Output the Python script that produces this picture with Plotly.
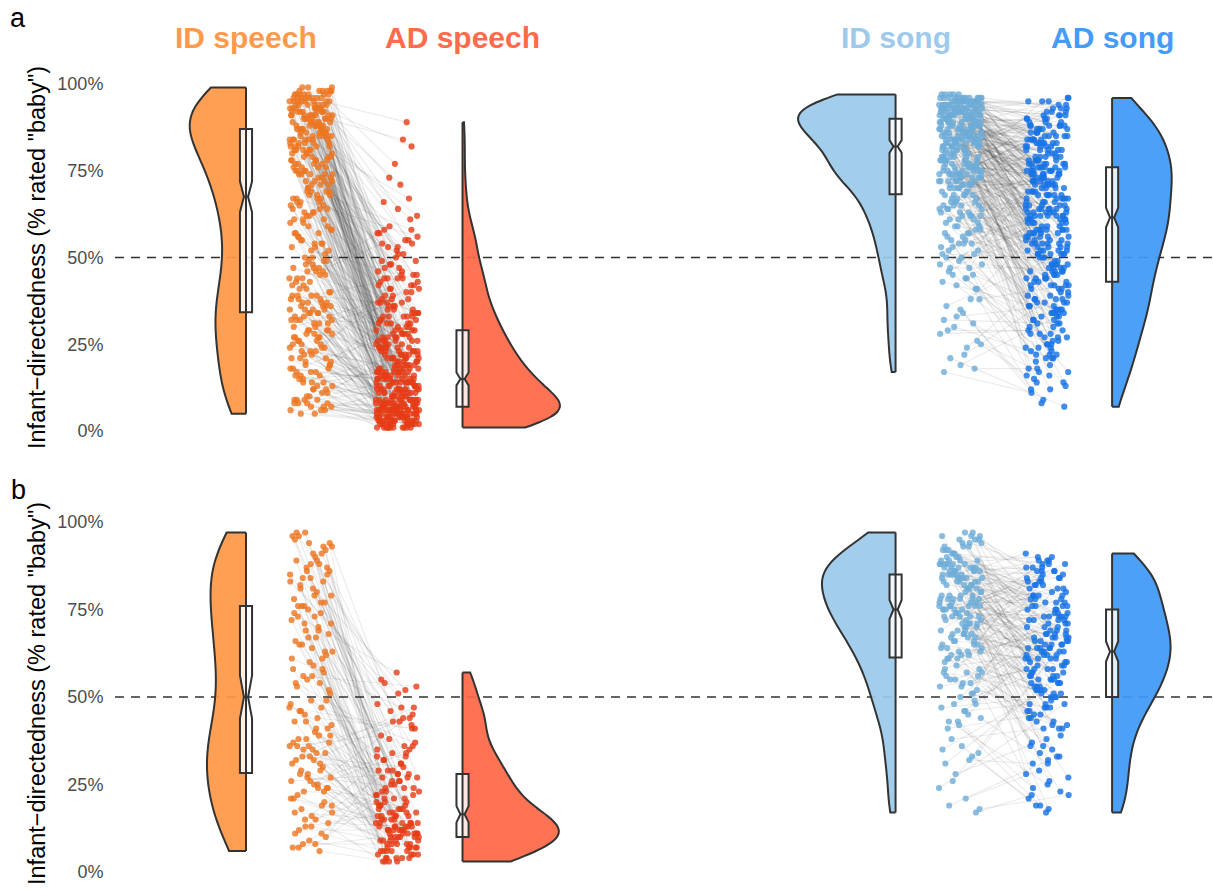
import numpy as np
import plotly.graph_objects as go

# Percentage of listeners who answered "baby" for each recording.
# ID and AD lists of the same panel/domain are index-aligned (same singer/speaker).

# ---- panel a ----
A_ID_SPEECH = [
    97, 92, 95, 99, 91, 94, 90, 96, 93, 98, 92, 95, 91, 97, 94, 90, 93, 96, 92, 98,
    91, 95, 93, 97, 90, 94, 96, 92, 99, 91, 93, 95, 97, 90, 94, 92, 96, 91, 93, 98, 95,
    88, 84, 86, 81, 89, 83, 87, 85, 80, 82, 88, 86, 84, 89, 81, 87, 83, 85, 88, 82,
    86, 84, 80, 89, 87, 83, 85, 81, 88, 86, 84, 82, 87,
    78, 74, 76, 71, 79, 73, 77, 75, 72, 70, 78, 76, 74, 79, 71, 77, 73, 75, 72, 78, 74, 76,
    68, 64, 66, 61, 69, 63, 67, 65, 62, 60, 68, 66, 64, 69, 61, 67, 63,
    58, 54, 56, 51, 59, 53, 57, 55, 52, 50, 57, 54,
    48, 44, 46, 41, 49, 43, 47, 45, 42, 40, 47, 44, 49, 46,
    38, 34, 36, 31, 39, 33, 37, 35, 32, 30, 38, 36, 34, 39, 31, 37, 33, 35, 32, 36,
    28, 24, 26, 21, 29, 23, 27, 25, 22, 20, 28, 26, 24, 29, 21, 27, 23,
    18, 14, 16, 11, 19, 13, 17, 15, 12, 10, 18, 16, 14, 19, 12,
    9, 7, 8, 6, 9, 5, 8, 7, 9,
    96, 91, 98, 93, 95, 90, 97, 92, 94, 99, 91, 96, 93, 98, 90, 95, 92, 97, 94, 91,
    96, 93, 90, 98, 95, 92, 97, 94, 91, 93, 96,
    85, 89, 82, 87, 84, 80, 88, 83, 86, 81, 89, 85, 87, 82, 84, 88, 86, 80, 83, 89,
    85, 87, 81, 84, 88,
    75, 79, 72, 77, 74, 70, 78, 73, 76, 71, 79, 75, 77, 72, 74, 78,
    65, 69, 62, 67, 64, 60, 68, 63, 66, 61, 69, 65, 67,
    55, 59, 52, 57, 54, 50, 58, 53, 56,
    45, 49, 42, 47, 44, 40, 48, 43, 46, 41,
    35, 39, 32, 37, 34, 30, 38, 33, 36, 31, 39, 35, 37, 32, 34,
    25, 29, 22, 27, 24, 20, 28, 23, 26, 21, 29, 25, 27,
    15, 19, 12, 17, 14, 10, 18, 13, 16, 11, 17,
    8, 6, 9, 7, 5, 8, 6,
]
A_AD_SPEECH = [
    89, 23, 47, 8, 38, 18, 58, 28, 13, 77, 35, 44, 21, 6, 64, 32, 16, 55, 26, 9,
    41, 36, 82, 24, 19, 11, 52, 29, 73, 33, 49, 7, 22, 14, 61, 39, 17, 57, 27, 45, 4,
    12, 43, 5, 20, 31, 67, 15, 8, 25, 3, 54, 37, 10, 24, 19, 7, 48, 28, 2, 14,
    34, 21, 9, 17, 51, 26, 6, 42, 13, 30, 16, 23, 4,
    9, 27, 11, 46, 6, 18, 33, 3, 22, 13, 53, 5, 15, 38, 8, 29, 12, 1, 40, 16, 20, 31,
    14, 7, 36, 2, 24, 17, 56, 10, 5, 26, 44, 12, 19, 8, 21, 4, 32,
    16, 6, 41, 11, 3, 22, 9, 35, 14, 1, 28, 18,
    7, 13, 59, 2, 17, 5, 34, 10, 9, 25, 4, 15, 6, 23,
    8, 21, 3, 12, 45, 6, 19, 1, 37, 14, 5, 29, 4, 16, 9, 24, 11, 2, 31, 7,
    6, 13, 2, 42, 8, 18, 4, 10, 5, 33, 1, 12, 9, 20, 3, 15, 7,
    5, 1, 11, 3, 27, 7, 2, 17, 9, 4, 14, 2, 22, 6, 3,
    3, 8, 1, 6, 12, 2, 5, 4, 7,
    12, 43, 7, 31, 22, 84, 17, 26, 9, 53, 14, 37, 19, 5, 48, 24, 66, 10, 29, 8,
    34, 15, 3, 57, 20, 13, 41, 6, 27, 71, 18, 39, 11, 23, 7, 46, 50, 16, 25, 4,
    32, 12, 62, 21, 9, 44, 28, 17, 36, 14, 6, 55, 24, 30, 49, 2,
    6, 33, 11, 2, 21, 58, 16, 8, 42, 27, 13, 4, 19, 38, 5, 23, 14, 9, 47, 1,
    15, 29, 7, 35, 10, 18, 51, 3, 6, 22, 12, 45, 8, 17, 26, 31, 5, 4,
    7, 34, 13, 3, 54, 18, 9, 28, 1, 24, 11, 37, 5, 15, 2, 40, 8, 20, 12, 6,
    30, 16, 25, 4, 7,
    2, 6, 12, 3, 44, 8, 1, 17, 5, 4, 21, 10, 2, 9, 33, 3, 7, 19, 1, 14,
    6, 4, 26, 8, 2, 11, 15, 5, 3, 23, 1,
]
A_ID_SONG = [
    93, 91, 95, 96, 92, 94, 90, 97, 93, 91, 95, 92, 96, 94, 90, 93, 91, 95, 97, 92,
    94, 96, 90, 93, 91, 95, 92, 94, 96, 93, 90, 91, 95, 92, 97, 94, 96, 93, 91, 90,
    95, 92, 94, 96, 93, 91, 95, 90, 92, 94, 96, 93, 91, 95, 92, 94,
    88, 84, 86, 81, 89, 83, 87, 85, 80, 82, 89, 86, 84, 88, 81, 87, 83, 85, 89, 82,
    86, 84, 80, 88, 87, 83, 85, 81, 89, 86, 84, 82, 87, 85, 88, 83, 86, 80, 89, 84,
    87, 81, 85, 88, 82, 86, 83, 89, 84, 87, 85, 88,
    78, 74, 76, 71, 79, 73, 77, 75, 72, 70, 78, 76, 74, 79, 71, 77, 73, 75, 72, 78,
    74, 76, 70, 79, 77, 73, 75, 71, 78, 76, 74, 72, 77, 79, 75, 73, 78, 71, 76, 74,
    68, 64, 66, 61, 69, 63, 67, 65, 62, 60, 68, 66, 64, 69, 61, 67, 63, 65, 62, 68,
    58, 54, 56, 51, 59, 53, 57, 55, 52, 50, 57, 54, 59,
    48, 44, 46, 41, 49, 43, 47, 45,
    38, 34, 36, 31, 33,
    28, 24, 21, 26,
    19, 17,
    94, 91, 96, 93, 90, 95, 92, 97, 94, 91, 96, 93, 90, 95, 92, 94, 96, 91, 93, 95,
    90, 92, 97, 94, 96, 93, 91, 95, 92, 90, 94, 96, 93, 91, 95, 92, 94, 90, 96, 93, 95, 92,
    85, 82, 88, 84, 81, 87, 83, 89, 86, 80, 85, 88, 82, 86, 84, 89, 81, 87, 83, 85,
    88, 86, 82, 84, 89, 80, 87, 83, 85, 81, 86, 88, 84, 82, 87, 89, 83, 85, 86,
    75, 72, 78, 74, 71, 77, 73, 79, 76, 70, 75, 78, 72, 76, 74, 79, 71, 77, 73, 75,
    78, 76, 72, 74, 79, 70, 77, 73, 75, 76,
    65, 62, 68, 64, 61, 67, 63, 69, 66, 60, 65, 68, 62, 66, 64,
    55, 52, 58, 54, 51, 57, 53, 59, 56, 50,
    45, 42, 48, 44, 47, 41, 35, 32, 38, 30, 25, 22, 29, 18,
]
A_AD_SONG = [
    78, 88, 64, 93, 58, 74, 84, 48, 66, 76, 38, 86, 71, 61, 54, 91, 79, 81, 69, 28,
    56, 73, 89, 44, 63, 95, 77, 51, 83, 67, 75, 16, 87, 59, 65, 72, 34, 90, 85, 62,
    53, 70, 46, 80, 60, 76, 94, 57, 82, 24, 74, 41, 86, 68, 36, 92,
    65, 87, 45, 77, 55, 96, 73, 35, 62, 83, 52, 79, 14, 68, 85, 42, 71, 58, 64, 91,
    32, 75, 81, 50, 60, 78, 49, 89, 25, 67, 72, 57, 84, 63, 39, 74, 93, 54, 47, 69,
    82, 70, 51, 22, 61, 88, 37, 76, 59, 43, 80, 90,
    66, 46, 86, 76, 36, 56, 92, 62, 26, 72, 42, 82, 52, 68, 78, 32, 18, 58, 88, 64,
    48, 74, 22, 54, 95, 61, 38, 71, 84, 44, 67, 51, 79, 28, 81, 63, 57, 41, 75, 34,
    55, 73, 35, 83, 45, 65, 25, 77, 50, 31, 60, 12, 40, 87, 53, 69, 21, 39, 70, 47,
    43, 64, 23, 85, 52, 33, 75, 15, 48, 67, 27, 58, 37,
    46, 30, 62, 13, 56, 34, 72, 24,
    42, 9, 51, 20, 36,
    29, 44, 7, 17,
    33, 11,
    75, 85, 65, 91, 55, 72, 82, 45, 62, 78, 35, 88, 68, 94, 52, 74, 84, 25, 64, 71,
    81, 58, 42, 77, 90, 61, 87, 73, 54, 19, 67, 83, 79, 38, 93, 63, 89, 51, 76, 48, 86, 95,
    64, 84, 54, 74, 92, 44, 77, 67, 87, 34, 57, 71, 61, 81, 27, 76, 51, 96, 66, 47,
    73, 86, 56, 63, 37, 78, 83, 41, 68, 53, 70, 88, 60, 46, 75, 90, 58, 31, 80,
    62, 72, 42, 82, 52, 32, 75, 65, 91, 55, 22, 45, 78, 68, 85, 58, 35, 74, 64, 48,
    54, 88, 71, 26, 61, 44, 77, 51, 38, 84,
    53, 43, 73, 33, 63, 23, 56, 83, 46, 14, 66, 36, 59, 76, 28, 49, 69, 39, 17, 50,
    40, 79, 30, 60, 21,
    34, 24, 62, 12, 47, 27, 8, 31, 57, 21, 16, 37, 29, 18,
]

# ---- panel b ----
B_ID_SPEECH = [
    95, 91, 97, 93, 90, 96, 92, 94, 96,
    88, 84, 86, 81, 89, 83, 87, 85, 80, 82, 87, 84,
    78, 74, 76, 71, 79, 73, 77, 75, 72, 70, 76,
    68, 64, 66, 61, 69, 63, 67, 65, 62, 60,
    58, 54, 56, 51, 59, 53, 57, 55,
    48, 44, 46, 41, 49, 43, 47, 45, 42, 40,
    38, 34, 36, 31, 39, 33, 37, 35, 32, 30, 38, 36, 34,
    28, 24, 26, 21, 29, 23, 27, 25, 22, 20, 28, 26, 24,
    18, 14, 16, 11, 19, 13, 17, 15, 12, 10,
    9, 7, 6, 8,
    94, 91, 97, 93, 86, 83, 89, 81, 85, 88,
    74, 77, 71, 79, 73, 76, 63, 67, 61, 69, 65,
    52, 56, 54, 58, 43, 47, 41, 46, 49,
    33, 37, 31, 35, 39, 32, 36, 23, 27, 21, 25, 29, 24,
    13, 17, 11, 15, 19, 8, 7,
]
B_AD_SPEECH = [
    17, 55, 12, 27, 8, 44, 21, 14, 33,
    13, 36, 7, 52, 19, 28, 11, 46, 16, 9, 31, 23,
    12, 42, 4, 24, 18, 57, 10, 38, 6, 15, 26,
    14, 34, 8, 20, 11, 48, 16, 5, 29, 13,
    19, 10, 53, 25, 7, 32, 12, 22,
    15, 41, 6, 21, 13, 3, 37, 17, 11, 27,
    18, 9, 43, 14, 24, 30, 5, 16, 47, 12, 20, 39, 26,
    11, 6, 35, 15, 4, 22, 10, 45, 8, 19, 14, 28, 7,
    9, 13, 3, 31, 10, 17, 5, 23, 12, 29,
    4, 11, 3, 8,
    16, 43, 11, 26, 7, 54, 18, 35, 13, 22,
    12, 33, 9, 51, 17, 10, 28, 6, 47, 14, 21,
    13, 4, 36, 19, 8, 41, 11, 27, 23,
    10, 5, 29, 14, 3, 44, 16, 9, 24, 12, 34, 6, 18,
    7, 15, 4, 32, 12, 20, 25,
]
B_ID_SONG = [
    93, 96, 91, 94, 97, 92, 95, 90, 96, 93, 91, 95, 94, 92, 97, 90,
    88, 84, 86, 81, 89, 83, 87, 85, 80, 82, 88, 86, 84, 89, 81, 87, 83, 85, 88, 82,
    86, 84, 80, 89, 87, 83, 85, 81, 88, 86, 84, 82, 87, 85,
    78, 74, 76, 71, 79, 73, 77, 75, 72, 70, 78, 76, 74, 79, 71, 77, 73, 75, 72, 78,
    74, 76, 70, 79, 77, 73, 75, 71, 78, 76,
    68, 64, 66, 61, 69, 63, 67, 65, 62, 60, 68, 66, 64, 69, 61, 67, 63, 65, 62, 68,
    58, 54, 56, 51, 59, 53, 57, 55, 52, 50, 57, 54,
    48, 44, 46, 41, 49, 43, 47, 45,
    38, 34, 36, 31, 33,
    28, 24, 21,
    19, 17,
    95, 92, 94, 91, 96, 93, 90,
    86, 83, 88, 81, 85, 89, 84, 87, 82, 86, 80, 88, 85, 83, 87, 84,
    76, 73, 78, 71, 75, 79, 74, 77, 72, 76, 70, 78, 75, 73,
    66, 63, 68, 61, 65, 69, 64, 67, 62, 56, 53, 58, 51, 55, 57,
    46, 43, 48, 42, 35, 32, 26, 18,
]
B_AD_SONG = [
    77, 56, 88, 66, 83, 73, 45, 90, 62, 52, 79, 86, 68, 81, 58, 71,
    64, 74, 87, 55, 67, 36, 78, 82, 51, 61, 47, 72, 89, 69, 57, 26, 76, 63, 84, 53,
    42, 70, 65, 85, 59, 75, 60, 32, 80, 66, 54, 79, 49, 91,
    62, 73, 52, 86, 44, 68, 77, 83, 56, 37, 64, 71, 88, 23, 66, 58, 75, 48, 81, 61,
    50, 78, 18, 67, 84, 41, 72, 55, 87, 63,
    65, 53, 74, 46, 89, 60, 34, 70, 57, 69, 27, 82, 51, 76, 43, 64, 17, 59, 79, 62,
    54, 73, 42, 86, 63, 58, 35, 84, 47, 76, 52, 67,
    56, 31, 68, 45, 72, 24, 50, 61,
    41, 65, 19, 55, 21,
    38, 48, 29,
    33, 22,
    64, 74, 87, 54, 82, 67, 46, 77, 57, 90, 61, 36, 71, 69, 52, 84, 79, 65, 28, 73,
    59, 43, 86,
    72, 62, 88, 53, 81, 76, 47, 66, 85, 39, 78, 56, 83, 68,
    63, 55, 75, 44, 89, 60, 51, 33, 67, 80, 58, 70, 41, 64, 50,
    48, 25, 73, 19, 54, 31, 61, 22,
]

GROUPS = ["ID speech", "AD speech", "ID song", "AD song"]
TICK_VALUES = [0, 25, 50, 75, 100]
TICK_LABELS = ["0%", "25%", "50%", "75%", "100%"]
CHANCE_LEVEL = 50
Y_TITLE = "Infant\u2212directedness (% rated \"baby\")"

# ---- styling ----
GROUP_X = {"ID speech": 1, "AD speech": 2, "ID song": 4, "AD song": 5}
FILL = {"ID speech": "rgba(255,152,70,0.93)", "AD speech": "rgba(255,104,72,0.93)",
        "ID song": "rgba(155,201,234,0.93)", "AD song": "rgba(64,153,248,0.93)"}
TITLE_COLOR = {"ID speech": "#FE9A4A", "AD speech": "#FF6B4B",
               "ID song": "#9DCAEA", "AD song": "#459CF7"}
DOT = {"ID speech": "rgba(236,118,32,0.8)", "AD speech": "rgba(230,60,22,0.8)",
       "ID song": "rgba(110,172,216,0.8)", "AD song": "rgba(24,116,228,0.82)"}
SIDE = {"ID speech": "negative", "AD speech": "positive",
        "ID song": "negative", "AD song": "positive"}
DOT_SHIFT = {"ID speech": 0.3, "AD speech": -0.3, "ID song": 0.3, "AD song": -0.3}
JITTER = 0.1
OUTLINE = "#333333"
OUTLINE_W = 2.0
X_RANGE = [0.395, 5.466]
Y_RANGE = [-4, 104]
W, H = 1213, 893
MARGIN_L = 115

PANELS = [
    dict(tag="a", xa="x", ya="y", zero_px=431, full_px=84,
         data={"ID speech": A_ID_SPEECH, "AD speech": A_AD_SPEECH,
               "ID song": A_ID_SONG, "AD song": A_AD_SONG},
         vwidth={"ID speech": 0.52, "AD speech": 0.9, "ID song": 0.9, "AD song": 0.55}),
    dict(tag="b", xa="x2", ya="y2", zero_px=872, full_px=522,
         data={"ID speech": B_ID_SPEECH, "AD speech": B_AD_SPEECH,
               "ID song": B_ID_SONG, "AD song": B_AD_SONG},
         vwidth={"ID speech": 0.36, "AD speech": 0.89, "ID song": 0.68, "AD song": 0.54}),
]


def bw_nrd0(values):
    v = np.asarray(values, float)
    q75, q25 = np.percentile(v, [75, 25])
    spread = min(v.std(ddof=1), (q75 - q25) / 1.34)
    return 0.9 * spread * len(v) ** -0.2


def jitter(n, step, phase):
    k = np.arange(n)
    return ((k * step + phase) % 1.0 - 0.5) * 2 * JITTER


def y_domain(zero_px, full_px):
    per_unit = (zero_px - full_px) / 100.0
    bottom_px = zero_px - Y_RANGE[0] * per_unit
    top_px = zero_px - Y_RANGE[1] * per_unit
    return [1 - bottom_px / H, 1 - top_px / H]


fig = go.Figure()

for panel in PANELS:
    xa, ya = panel["xa"], panel["ya"]
    data = panel["data"]
    # paired ratings: connecting segments first, then the jittered dots
    for id_g, ad_g in (("ID speech", "AD speech"), ("ID song", "AD song")):
        id_vals, ad_vals = data[id_g], data[ad_g]
        n = len(id_vals)
        xi = GROUP_X[id_g] + DOT_SHIFT[id_g] + jitter(n, 0.6180339887, 0.13)
        xd = GROUP_X[ad_g] + DOT_SHIFT[ad_g] + jitter(n, 0.4142135624, 0.71)
        lx, ly = [], []
        for a, b, ya_, yb_ in zip(xi, xd, id_vals, ad_vals):
            lx += [a, b, None]
            ly += [ya_, yb_, None]
        fig.add_trace(go.Scatter(x=lx, y=ly, mode="lines", xaxis=xa, yaxis=ya,
                                 line=dict(color="rgba(40,40,40,0.09)", width=1.2),
                                 hoverinfo="skip", showlegend=False))
        for g, xs in ((id_g, xi), (ad_g, xd)):
            fig.add_trace(go.Scatter(x=xs, y=data[g], mode="markers", xaxis=xa, yaxis=ya,
                                     marker=dict(size=6.2, color=DOT[g], line=dict(width=0)),
                                     hoverinfo="skip", showlegend=False))

    # half violins with a notched box on their flat edge
    for g in GROUPS:
        vals = data[g]
        pos = GROUP_X[g]
        fig.add_trace(go.Violin(
            x=[pos] * len(vals), y=vals, xaxis=xa, yaxis=ya,
            side=SIDE[g], spanmode="hard", points=False,
            bandwidth=bw_nrd0(vals), width=panel["vwidth"][g], scalemode="width",
            fillcolor=FILL[g], line=dict(color=OUTLINE, width=OUTLINE_W),
            box=dict(visible=False), meanline=dict(visible=False),
            hoverinfo="skip", showlegend=False))
        fig.add_trace(go.Scatter(
            x=[pos, pos], y=[min(vals), max(vals)], mode="lines", xaxis=xa, yaxis=ya,
            line=dict(color=OUTLINE, width=OUTLINE_W), hoverinfo="skip", showlegend=False))
        q1, med, q3 = np.percentile(vals, [25, 50, 75])
        notch = 1.58 * (q3 - q1) / np.sqrt(len(vals))
        fig.add_trace(go.Box(
            x=[pos], q1=[q1], median=[med], q3=[q3], lowerfence=[q1], upperfence=[q3],
            notchspan=[notch], notched=True, notchwidth=0.33, width=0.056,
            whiskerwidth=0, xaxis=xa, yaxis=ya, boxpoints=False,
            fillcolor="rgba(255,255,255,0.84)", line=dict(color=OUTLINE, width=OUTLINE_W),
            hoverinfo="skip", showlegend=False))

    fig.add_shape(type="line", xref=f"{xa} domain", yref=ya, x0=0, x1=1,
                  y0=CHANCE_LEVEL, y1=CHANCE_LEVEL, layer="below",
                  line=dict(color=OUTLINE, width=1.6, dash="9px,7px"))

axis_x = dict(range=X_RANGE, visible=False, showgrid=False, zeroline=False, fixedrange=True)
axis_y = dict(range=Y_RANGE, tickvals=TICK_VALUES, ticktext=TICK_LABELS,
              showgrid=False, zeroline=False, showline=False,
              ticks="outside", ticklen=7, tickcolor="rgba(0,0,0,0)",
              tickfont=dict(size=18, color="#4D4D4D",
                            family="Liberation Sans, Arial, sans-serif"))

fig.update_layout(
    width=W, height=H,
    margin=dict(l=MARGIN_L, r=0, t=0, b=0, pad=0),
    paper_bgcolor="white", plot_bgcolor="white",
    violinmode="overlay", boxmode="overlay",
    xaxis=dict(axis_x, domain=[0, 1], anchor="y"),
    yaxis=dict(axis_y, domain=y_domain(PANELS[0]["zero_px"], PANELS[0]["full_px"]), anchor="x"),
    xaxis2=dict(axis_x, domain=[0, 1], anchor="y2"),
    yaxis2=dict(axis_y, domain=y_domain(PANELS[1]["zero_px"], PANELS[1]["full_px"]), anchor="x2"),
    font=dict(family="Liberation Sans, Arial, sans-serif", color="black"),
)

annotations = []
for g in GROUPS:
    annotations.append(dict(text=g, xref="x", yref="paper", x=GROUP_X[g], y=1 - 38 / H,
                            xanchor="center", yanchor="middle", showarrow=False,
                            font=dict(size=30, color=TITLE_COLOR[g], weight="bold")))
for panel, tag_px, mid_px in ((PANELS[0], 18, 258), (PANELS[1], 490, 694)):
    annotations.append(dict(text=panel["tag"], xref="paper", yref="paper",
                            x=(18 - MARGIN_L) / (W - MARGIN_L), y=1 - tag_px / H,
                            xanchor="center", yanchor="middle", showarrow=False,
                            font=dict(size=27, color="black")))
    annotations.append(dict(text=Y_TITLE, xref="paper", yref="paper", textangle=-90,
                            x=(37 - MARGIN_L) / (W - MARGIN_L), y=1 - mid_px / H,
                            xanchor="center", yanchor="middle", showarrow=False,
                            font=dict(size=23.5, color="black")))
fig.update_layout(annotations=annotations)

fig.write_html("out.html")
